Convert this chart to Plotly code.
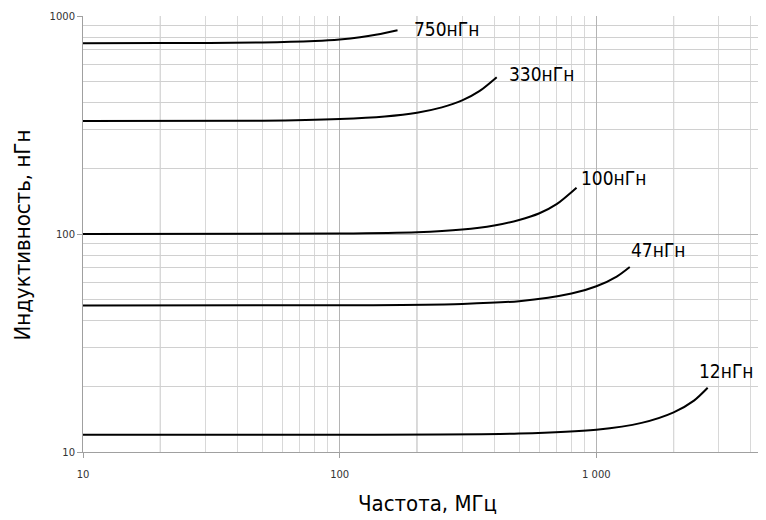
import math
import plotly.graph_objects as go

# Data (frequency in MHz, inductance in nH)
freq_750 = [10, 20, 50, 80, 100, 120, 140, 168]
L_750 = [750, 751, 756, 768, 780, 798, 822, 860]

freq_330 = [10, 50, 100, 150, 200, 250, 300, 350, 409]
L_330 = [330, 331, 337, 346, 360, 381, 410, 452, 524]

freq_100 = [10, 100, 200, 300, 400, 500, 600, 700, 837]
L_100 = [100, 100.4, 101.8, 104.8, 109.5, 116, 124.5, 137, 163]

freq_47 = [10, 100, 300, 500, 800, 1000, 1200, 1349]
L_47 = [47, 47.1, 47.8, 49.2, 53.3, 57.6, 63.8, 70.6]

freq_12 = [10, 100, 500, 1000, 1500, 2000, 2400, 2714]
L_12 = [12, 12.0, 12.15, 12.65, 13.6, 15.2, 17.2, 19.7]

series_names = ["750нГн", "330нГн", "100нГн", "47нГн", "12нГн"]
series_x = [freq_750, freq_330, freq_100, freq_47, freq_12]
series_y = [L_750, L_330, L_100, L_47, L_12]

x_ticks = [10, 100, 1000]
x_tick_text = ["10", "100", "1 000"]
y_ticks = [10, 100, 1000]
y_tick_text = ["10", "100", "1000"]
x_minor = [v * d for d in (10, 100, 1000) for v in range(2, 10) if v * d <= 4500]
y_minor = [v * d for d in (10, 100) for v in range(2, 10)]
x_dark = [20, 200, 2000]

# label offsets in pixels (style only)
label_shift = [(15, 1), (11, 3), (3, 10), (0, 17), (-10, 17)]

label_font = "DejaVu Sans Condensed, Roboto Condensed, Roboto, sans-serif"

fig = go.Figure()
for name, fx, fy, (dx, dy) in zip(series_names, series_x, series_y, label_shift):
    fig.add_trace(go.Scatter(
        x=fx, y=fy, mode="lines", name=name,
        line=dict(color="black", width=2, shape="spline", smoothing=0.8),
        showlegend=False, hoverinfo="skip",
    ))
    fig.add_annotation(
        x=math.log10(fx[-1]), y=math.log10(fy[-1]), xref="x", yref="y",
        text=name, showarrow=False, xanchor="left", yanchor="middle",
        xshift=dx, yshift=dy, borderpad=0,
        font=dict(family=label_font, size=19, color="black"),
    )

for v in x_dark:
    fig.add_shape(type="line", xref="x", yref="paper", x0=v, x1=v, y0=0, y1=1,
                  line=dict(color="#b4b4b4", width=1), layer="below")

fig.add_annotation(
    xref="paper", yref="paper", x=0.51, y=-0.117, text="Частота, МГц",
    showarrow=False, xanchor="center", yanchor="middle",
    font=dict(family=label_font, size=22, color="black"),
)
fig.add_annotation(
    xref="paper", yref="paper", x=-0.0895, y=0.498, text="Индуктивность, нГн",
    showarrow=False, xanchor="center", yanchor="middle", textangle=-90,
    font=dict(family=label_font, size=22, color="black"),
)

fig.update_xaxes(
    type="log", range=[1, 3.6296],
    tickvals=x_ticks, ticktext=x_tick_text,
    ticks="outside", ticklen=5, tickcolor="#a0a0a0",
    ticklabelstandoff=8,
    showgrid=True, gridcolor="#b4b4b4", gridwidth=1,
    showline=True, linecolor="#a0a0a0", linewidth=1,
    zeroline=False,
    minor=dict(tickvals=x_minor, showgrid=True, gridcolor="#d8d8d8", gridwidth=1, ticks=""),
    tickfont=dict(family="DejaVu Sans", size=10, color="#333333"),
)
fig.update_yaxes(
    type="log", range=[1, 3],
    tickvals=y_ticks, ticktext=y_tick_text,
    ticks="outside", ticklen=5, tickcolor="#a0a0a0",
    showgrid=True, gridcolor="#b4b4b4", gridwidth=1,
    showline=True, linecolor="#a0a0a0", linewidth=1,
    zeroline=False,
    minor=dict(tickvals=y_minor, showgrid=True, gridcolor="#d0d0d0", gridwidth=1, ticks=""),
    tickfont=dict(family="DejaVu Sans", size=10, color="#333333"),
)

# page body has an 8px margin, so the figure is offset by 8px
fig.update_layout(
    width=750, height=512,
    margin=dict(l=75, r=0, t=8, b=68),
    paper_bgcolor="white", plot_bgcolor="white",
    showlegend=False,
)

fig.write_html("out.html")
